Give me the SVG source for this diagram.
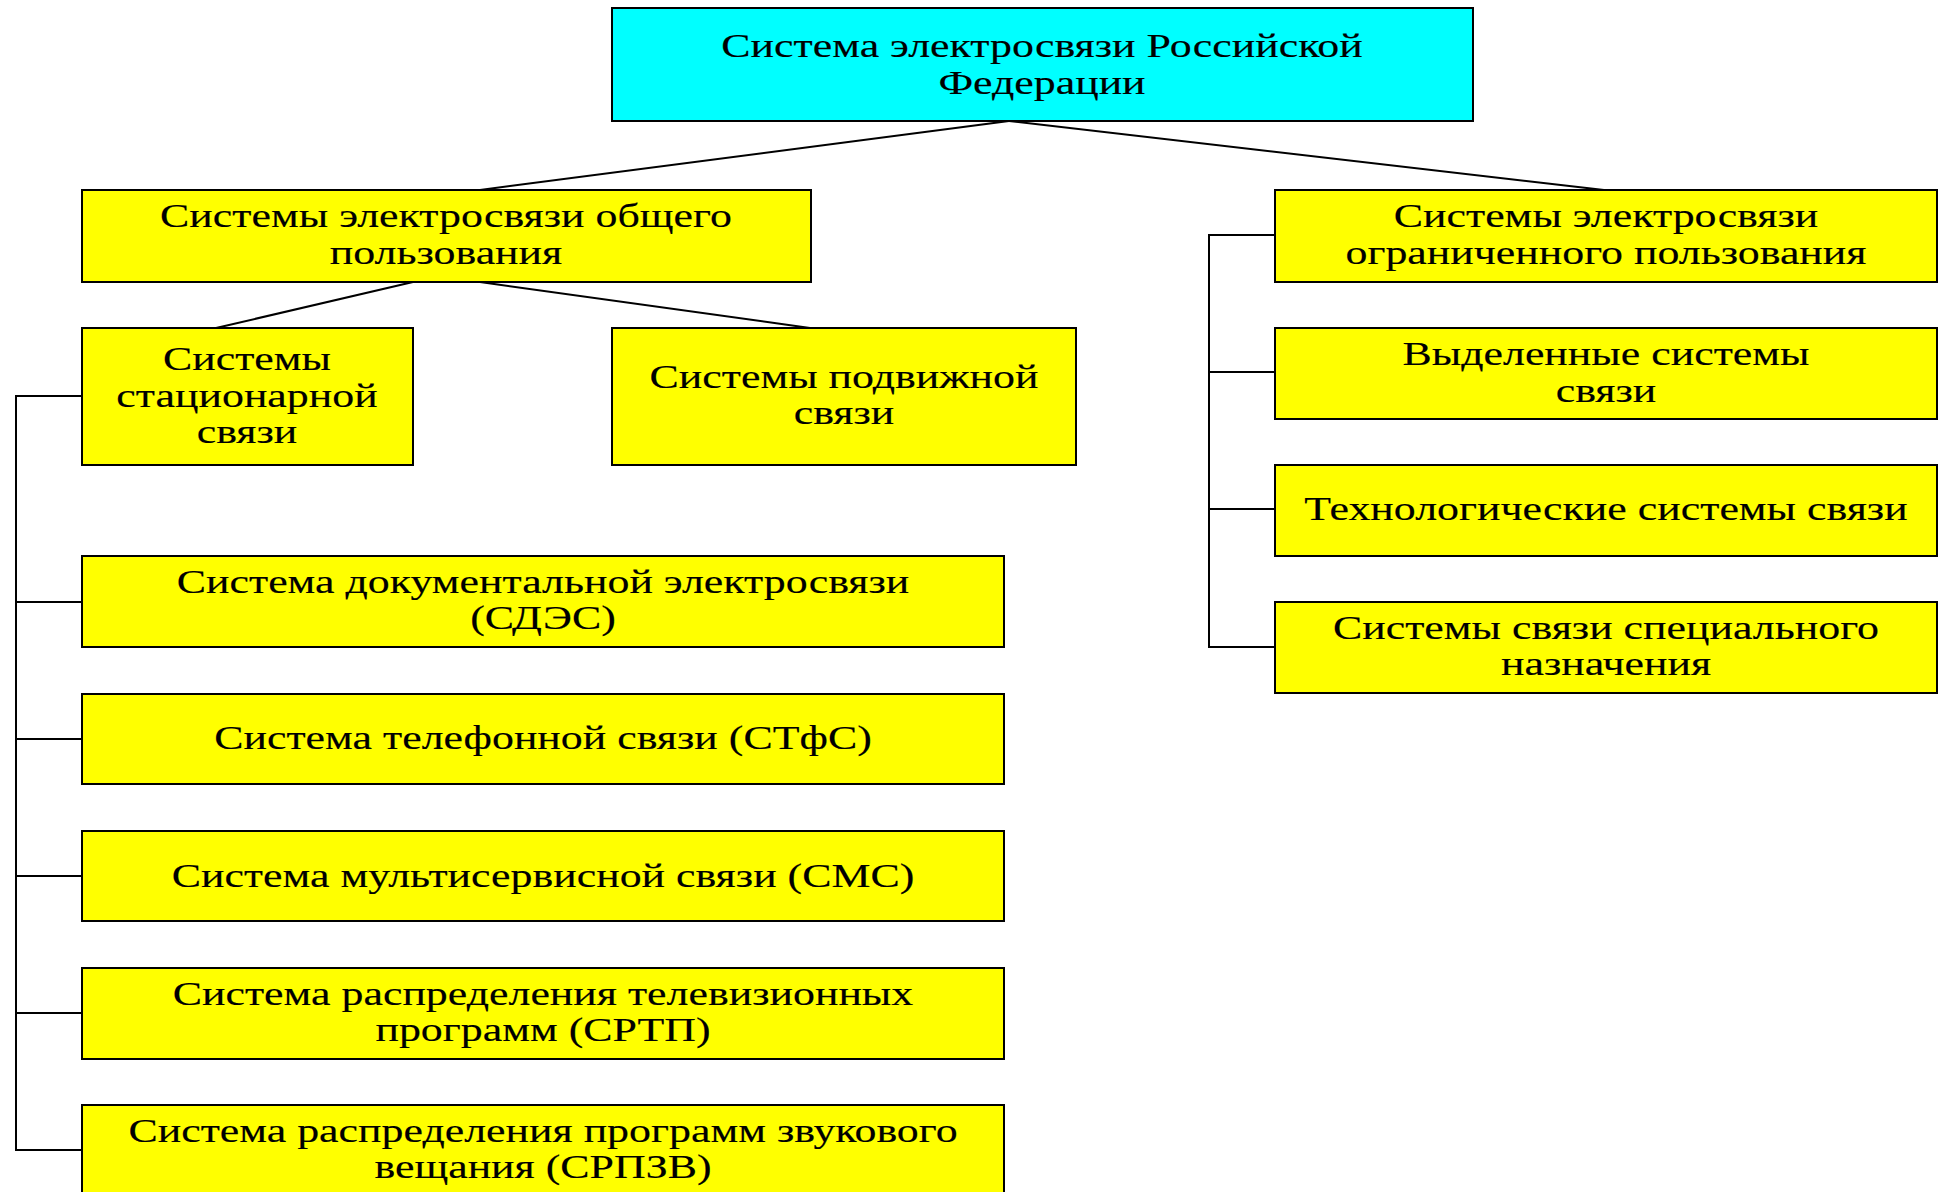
<svg xmlns="http://www.w3.org/2000/svg" width="1939" height="1192" viewBox="0 0 1939 1192">
<style>
.b{fill:#ffff00;stroke:#000;stroke-width:2}
.c{fill:#00ffff;stroke:#000;stroke-width:2}
.t{font-family:"Liberation Serif","Times New Roman",serif;font-size:33px;fill:#000;stroke:#000;stroke-width:0.15;text-anchor:middle;dominant-baseline:central}
.l{stroke:#000;stroke-width:2;fill:none}
</style>
<rect width="1939" height="1192" fill="#fff"/>
<g id="connectors">
<line class="l" x1="1009" y1="121" x2="480" y2="190"/>
<line class="l" x1="1009" y1="121" x2="1604" y2="190"/>
<line class="l" x1="413" y1="282" x2="216" y2="328"/>
<line class="l" x1="480" y1="282" x2="810" y2="328"/>
<polyline class="l" points="82,396 16,396 16,1150 82,1150"/>
<line class="l" x1="16" y1="602" x2="82" y2="602"/>
<line class="l" x1="16" y1="739" x2="82" y2="739"/>
<line class="l" x1="16" y1="876" x2="82" y2="876"/>
<line class="l" x1="16" y1="1013" x2="82" y2="1013"/>
<polyline class="l" points="1275,235 1209,235 1209,647 1275,647"/>
<line class="l" x1="1209" y1="372" x2="1275" y2="372"/>
<line class="l" x1="1209" y1="509" x2="1275" y2="509"/>
</g>
<g id="root"><rect class="c" x="612" y="8" width="861" height="113"/>
<text class="t" transform="matrix(1.33 0 0 1 1042 0)" y="46">Система электросвязи Российской</text><text class="t" transform="matrix(1.33 0 0 1 1042 0)" y="83">Федерации</text></g>
<g id="public"><rect class="b" x="82" y="190" width="729" height="92"/>
<text class="t" transform="matrix(1.33 0 0 1 446 0)" y="216">Системы электросвязи общего</text><text class="t" transform="matrix(1.33 0 0 1 446 0)" y="253">пользования</text></g>
<g id="restricted"><rect class="b" x="1275" y="190" width="662" height="92"/>
<text class="t" transform="matrix(1.33 0 0 1 1606 0)" y="216">Системы электросвязи</text><text class="t" transform="matrix(1.33 0 0 1 1606 0)" y="253">ограниченного пользования</text></g>
<g id="stationary"><rect class="b" x="82" y="328" width="331" height="137"/>
<text class="t" transform="matrix(1.33 0 0 1 247 0)" y="359">Системы</text><text class="t" transform="matrix(1.33 0 0 1 247 0)" y="396">стационарной</text><text class="t" transform="matrix(1.33 0 0 1 247 0)" y="432">связи</text></g>
<g id="mobile"><rect class="b" x="612" y="328" width="464" height="137"/>
<text class="t" transform="matrix(1.33 0 0 1 844 0)" y="377">Системы подвижной</text><text class="t" transform="matrix(1.33 0 0 1 844 0)" y="413">связи</text></g>
<g id="dedicated"><rect class="b" x="1275" y="328" width="662" height="91"/>
<text class="t" transform="matrix(1.33 0 0 1 1606 0)" y="354">Выделенные системы</text><text class="t" transform="matrix(1.33 0 0 1 1606 0)" y="391">связи</text></g>
<g id="technological"><rect class="b" x="1275" y="465" width="662" height="91"/>
<text class="t" transform="matrix(1.33 0 0 1 1606 0)" y="509">Технологические системы связи</text></g>
<g id="special"><rect class="b" x="1275" y="602" width="662" height="91"/>
<text class="t" transform="matrix(1.33 0 0 1 1606 0)" y="628">Системы связи специального</text><text class="t" transform="matrix(1.33 0 0 1 1606 0)" y="664">назначения</text></g>
<g id="sdes"><rect class="b" x="82" y="556" width="922" height="91"/>
<text class="t" transform="matrix(1.33 0 0 1 543 0)" y="582">Система документальной электросвязи</text><text class="t" transform="matrix(1.33 0 0 1 543 0)" y="618">(СДЭС)</text></g>
<g id="stfs"><rect class="b" x="82" y="694" width="922" height="90"/>
<text class="t" transform="matrix(1.33 0 0 1 543 0)" y="738">Система телефонной связи (СТфС)</text></g>
<g id="sms"><rect class="b" x="82" y="831" width="922" height="90"/>
<text class="t" transform="matrix(1.33 0 0 1 543 0)" y="876">Система мультисервисной связи (СМС)</text></g>
<g id="srtp"><rect class="b" x="82" y="968" width="922" height="91"/>
<text class="t" transform="matrix(1.33 0 0 1 543 0)" y="994">Система распределения телевизионных</text><text class="t" transform="matrix(1.33 0 0 1 543 0)" y="1030">программ (СРТП)</text></g>
<g id="srpzv"><rect class="b" x="82" y="1105" width="922" height="100"/>
<text class="t" transform="matrix(1.33 0 0 1 543 0)" y="1131">Система распределения программ звукового</text><text class="t" transform="matrix(1.33 0 0 1 543 0)" y="1167">вещания (СРПЗВ)</text></g>
</svg>
